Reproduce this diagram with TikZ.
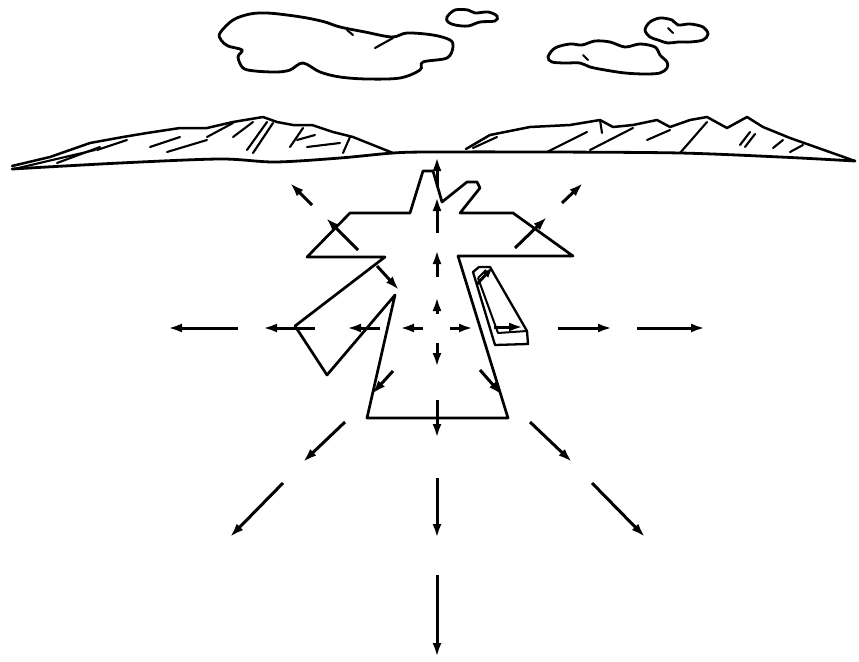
\documentclass[tikz,border=0pt]{standalone}
\usetikzlibrary{arrows.meta}
\begin{document}
\begin{tikzpicture}[x=1pt,y=-1pt,
  ray/.style={line width=3pt,-{Latex[length=14pt,width=9pt]}},
  outline/.style={line width=2.7pt,line join=round},
  ridge/.style={line width=2.5pt,line join=round,line cap=round},
  hatch/.style={line width=2.1pt,line cap=round},
  cloud/.style={line width=2.8pt}]
\useasboundingbox (0,0) rectangle (859,661);

% clouds
\draw[cloud] plot[smooth cycle,tension=0.55] coordinates{
  (220,33) (233,20) (250,14) (267,13) (287,15) (307,18) (325,22) (340,27) (365,32) (392,37)
  (407,33) (433,35) (450,40) (453,47) (447,58) (423,62) (420,70) (400,78) (367,79) (340,77)
  (320,72) (303,63) (290,70) (277,72) (255,71) (243,68) (238,57) (242,50) (228,46) (221,40)};
\draw[hatch] (375,48) -- (393,38);
\draw[hatch] (347,30) -- (353,35);
\draw[cloud] plot[smooth cycle,tension=0.55] coordinates{
  (447,17) (455,10) (468,10) (475,13) (488,12) (497,16) (495,21) (480,22) (468,26) (455,25) (448,22)};
\draw[cloud] plot[smooth cycle,tension=0.55] coordinates{
  (548,57) (555,48) (570,44) (582,45) (595,41) (610,42) (625,47) (640,44) (655,47) (660,55)
  (667,62) (667,68) (660,73) (645,74) (625,73) (605,70) (590,67) (580,63) (565,63) (552,62)};
\draw[cloud] plot[smooth cycle,tension=0.55] coordinates{
  (645,30) (650,22) (660,18) (672,20) (678,25) (690,24) (703,27) (708,34) (703,40) (690,42)
  (678,42) (668,43) (658,40) (650,37)};
\draw[hatch] (583,55) -- (588,60);
\draw[hatch] (668,28) -- (673,33);

% horizon
\draw[ridge,line width=2.8pt] plot[smooth,tension=0.5] coordinates{
  (12,169) (120,163) (220,159) (275,162) (340,158) (393,153) (430,152) (547,152) (680,153) (780,157) (855,161)};

% left range
\draw[ridge] (12,166) -- (50,157) -- (90,143) -- (123,137) -- (147,133) -- (180,128) -- (207,128)
  -- (233,122) -- (263,117) -- (277,122) -- (293,125) -- (312,125) -- (333,132) -- (353,137) -- (393,153);
\draw[hatch] (14,169) -- (95,150);
\draw[hatch] (57,163) -- (100,147);
\draw[hatch] (97,150) -- (127,140);
\draw[hatch] (150,147) -- (180,137);
\draw[hatch] (167,152) -- (207,140);
\draw[hatch] (207,137) -- (233,123);
\draw[hatch] (233,137) -- (253,122);
\draw[hatch] (247,150) -- (267,122);
\draw[hatch] (253,153) -- (273,123);
\draw[hatch] (290,147) -- (303,128);
\draw[hatch] (297,140) -- (315,135);
\draw[hatch] (307,147) -- (340,143);
\draw[hatch] (343,153) -- (350,137);

% right range
\draw[ridge] (466,149) -- (490,135) -- (530,127) -- (570,125) -- (600,120) -- (613,127) -- (633,125)
  -- (657,120) -- (670,127) -- (690,120) -- (707,117) -- (727,128) -- (747,117) -- (763,127)
  -- (790,138) -- (855,161);
\draw[hatch] (473,148) -- (497,137);
\draw[hatch] (547,152) -- (587,132);
\draw[hatch] (590,150) -- (633,128);
\draw[hatch] (600,120) -- (602,133);
\draw[hatch] (647,140) -- (670,130);
\draw[hatch] (680,153) -- (707,122);
\draw[hatch] (740,145) -- (750,132);
\draw[hatch] (745,147) -- (755,134);
\draw[hatch] (773,148) -- (783,140);
\draw[hatch] (790,152) -- (803,145);

% figure outline
\draw[outline] (307,257) -- (350,213) -- (410,213) -- (423,171) -- (433,171) -- (442,202)
  -- (467,182) -- (477,182) -- (480,188) -- (460,213) -- (513,213) -- (573,256) -- (458,256)
  -- (508,418) -- (367,418) -- (395,295) -- (327,375) -- (295,326) -- (385,257) -- cycle;

% plank
\draw[outline,line width=2.3pt] (473,272) -- (479,267) -- (490,267) -- (527,331) -- (528,344) -- (495,345) -- cycle;
\draw[outline,line width=2pt] (478,278) -- (498,333) -- (527,331);
\draw[outline,line width=2pt] (478,278) -- (486,270);

% rays: vertical
\draw[ray] (437,187) -- (437,157);
\draw[ray] (437,233) -- (437,197);
\draw[ray] (437,277) -- (437,250);
\draw[ray] (437,314) -- (437,297);
\draw[ray] (437,343) -- (437,367);
\draw[ray] (437,400) -- (437,438);
\draw[ray] (437,478) -- (437,538);
\draw[ray] (437,575) -- (437,657);
% rays: horizontal
\draw[ray] (238,328) -- (168,328);
\draw[ray] (315,328) -- (263,328);
\draw[ray] (380,328) -- (347,328);
\draw[ray] (423,328) -- (400,328);
\draw[ray] (450,328) -- (473,328);
\draw[ray] (494,327) -- (523,327);
\draw[ray] (558,328) -- (612,328);
\draw[ray] (637,328) -- (705,328);
% rays: diagonal
\draw[ray] (312,205) -- (290,183);
\draw[ray] (358,250) -- (326,218);
\draw[ray] (562,203) -- (583,183);
\draw[ray] (515,248) -- (547,217);
\draw[ray] (345,422) -- (303,462);
\draw[ray] (283,483) -- (230,537);
\draw[ray] (530,422) -- (572,462);
\draw[ray] (592,483) -- (645,537);
% rays inside the figure
\draw[ray] (377,266) -- (399,290);
\draw[ray] (393,371) -- (372,394);
\draw[ray] (480,370) -- (502,395);
\draw[ray,-{Latex[length=11pt,width=8pt]}] (477,284) -- (493,267);
\end{tikzpicture}
\end{document}
